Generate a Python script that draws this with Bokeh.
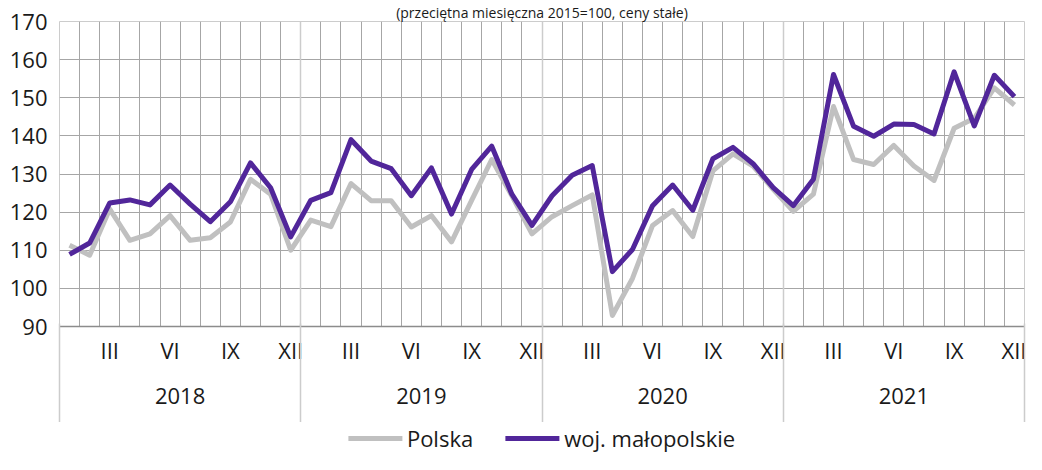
from bokeh.plotting import figure
from bokeh.layouts import column
from bokeh.models import (Range1d, FixedTicker, LinearAxis, Grid, Legend,
                          LegendItem, ColumnDataSource)
from bokeh.embed import file_html
from bokeh.resources import INLINE

# ---- data -------------------------------------------------------------
years = ["2018", "2019", "2020", "2021"]
month_labels = ["III", "VI", "IX", "XII"]
y_ticks = [90, 100, 110, 120, 130, 140, 150, 160, 170]
title_text = "(przeciętna miesięczna 2015=100, ceny stałe)"
series_names = ["Polska", "woj. małopolskie"]

polska = [111.3, 108.7, 120.8, 112.6, 114.3, 119.1, 112.6, 113.3, 117.4, 128.6, 124.7, 110.0,
          117.9, 116.2, 127.5, 123.0, 123.0, 116.1, 119.1, 112.2, 123.1, 133.8, 124.3, 114.3,
          118.8, 121.7, 124.5, 92.9, 102.6, 116.5, 120.4, 113.6, 130.8, 135.3, 132.1, 126.0,
          120.2, 124.7, 147.7, 133.8, 132.5, 137.5, 132.1, 128.3, 142.0, 144.6, 152.6, 148.1]

malopolskie = [108.9, 111.9, 122.4, 123.2, 121.9, 127.1, 122.1, 117.5, 122.7, 132.9, 126.4, 113.5,
               123.1, 125.1, 139.0, 133.4, 131.4, 124.3, 131.6, 119.5, 131.2, 137.3, 124.7, 116.5,
               124.3, 129.7, 132.2, 104.4, 110.2, 121.7, 127.1, 120.5, 134.0, 137.0, 132.7, 126.4,
               121.7, 128.6, 156.1, 142.5, 139.9, 143.1, 143.0, 140.5, 156.8, 142.6, 155.9, 150.3]

# ---- setup ------------------------------------------------------------
n = len(polska)
xs = [i + 0.5 for i in range(n)]
src = ColumnDataSource(dict(x=xs, polska=polska, mal=malopolskie))

FONT = "Open Sans"
TXT = "#1a1a1a"
GRID = "#a6a6a6"
LIGHT = "#cccccc"
PURPLE = "#51269a"
GRAY = "#c0c0c0"
FS = "22px"

p = figure(width=1026, height=422, output_backend="svg", toolbar_location=None,
           x_range=Range1d(0, n), y_range=Range1d(y_ticks[0], y_ticks[-1]),
           x_axis_location=None, min_border_left=59, min_border_right=2,
           min_border_top=0, min_border_bottom=96)

p.title.text = title_text
p.title.align = "center"
p.title.text_font = FONT
p.title.text_font_size = "14px"
p.title.text_font_style = "normal"
p.title.text_color = TXT
p.title.standoff = 0

p.outline_line_color = LIGHT
p.background_fill_color = "white"
p.border_fill_color = "white"

# y axis
yax = p.yaxis[0]
yax.ticker = FixedTicker(ticks=y_ticks)
yax.major_tick_out = 0
yax.major_tick_in = 0
yax.minor_tick_out = 0
yax.minor_tick_in = 0
yax.axis_line_color = None
yax.major_label_standoff = 12
yax.major_label_text_font = FONT
yax.major_label_text_font_size = FS
yax.major_label_text_color = TXT

p.ygrid.ticker = FixedTicker(ticks=y_ticks)
p.ygrid.grid_line_color = GRID
p.ygrid.grid_line_width = 1

# vertical grid lines at month boundaries
p.add_layout(Grid(dimension=0, ticker=FixedTicker(ticks=[i for i in range(1, n) if i % 12]),
                  grid_line_color=GRID, grid_line_width=1))
p.add_layout(Grid(dimension=0, ticker=FixedTicker(ticks=[12 * k for k in range(1, len(years))]),
                  grid_line_color=LIGHT, grid_line_width=1.5))

# month axis
month_ticks = []
overrides = {}
for yi in range(len(years)):
    for k, lab in enumerate(month_labels):
        t = yi * 12 + 3 * (k + 1) - 0.5
        month_ticks.append(t)
        overrides[t] = lab
axA = LinearAxis(ticker=FixedTicker(ticks=month_ticks, minor_ticks=[]),
                 major_label_overrides=overrides,
                 major_tick_out=0, major_tick_in=0, minor_tick_out=0, minor_tick_in=0,
                 axis_line_color="#8c8c8c", axis_line_width=1.5,
                 major_label_standoff=8,
                 major_label_text_font=FONT, major_label_text_font_size=FS,
                 major_label_text_color=TXT)
p.add_layout(axA, "below")

# year axis, its minor ticks are the year separators
year_ticks = [12 * k + 6 for k in range(len(years))]
SEP_OUT = 55
axB = LinearAxis(ticker=FixedTicker(ticks=year_ticks,
                                    minor_ticks=[12 * k for k in range(len(years) + 1)]),
                 major_label_overrides={t: y for t, y in zip(year_ticks, years)},
                 major_tick_out=0, major_tick_in=0,
                 minor_tick_out=SEP_OUT, minor_tick_in=44,
                 minor_tick_line_color=LIGHT, minor_tick_line_width=1.5,
                 axis_line_color=None, major_label_standoff=20 - SEP_OUT,
                 major_label_text_font=FONT, major_label_text_font_size=FS,
                 major_label_text_color=TXT)
p.add_layout(axB, "below")

# lines
p.line("x", "polska", source=src, line_color=GRAY, line_width=5, line_join="round")
p.line("x", "mal", source=src, line_color=PURPLE, line_width=5, line_join="round")

# ---- legend strip (series drawn out of view, only their legend shows) ----
lg = figure(width=1026, height=32, output_backend="svg", toolbar_location=None,
            x_range=Range1d(0, 1), y_range=Range1d(0, 1),
            x_axis_location=None, y_axis_location=None, min_border=0)
lg.outline_line_color = None
lg.xgrid.visible = False
lg.ygrid.visible = False
k_pl = lg.line("x", "polska", source=src, line_color=GRAY, line_width=5, line_cap="round")
k_ma = lg.line("x", "mal", source=src, line_color=PURPLE, line_width=5, line_cap="round")
legend = Legend(items=[LegendItem(label=series_names[0], renderers=[k_pl]),
                       LegendItem(label=series_names[1], renderers=[k_ma])],
                orientation="horizontal", location="center",
                label_text_font=FONT, label_text_font_size=FS,
                label_text_color=TXT,
                glyph_width=54, glyph_height=20, label_standoff=5, spacing=32,
                padding=0, margin=0, border_line_color=None,
                background_fill_alpha=0)
lg.add_layout(legend)

open("out.html", "w").write(file_html(column(p, lg), INLINE))
